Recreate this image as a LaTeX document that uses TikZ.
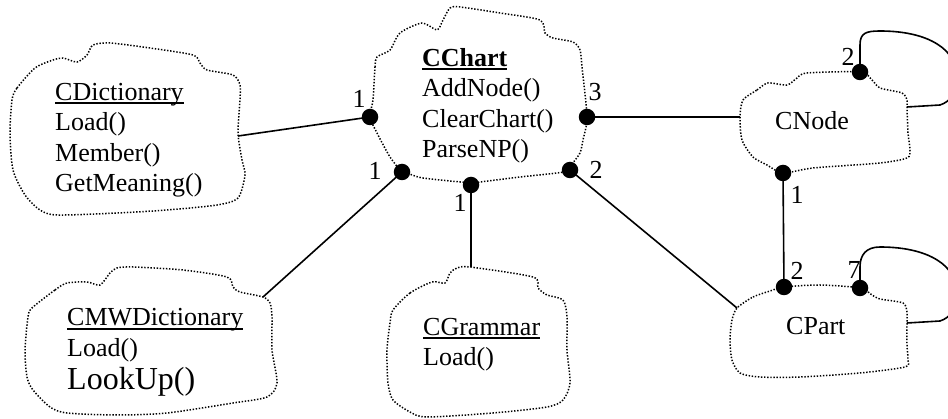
\documentclass[tikz,border=0pt]{standalone}
\usepackage{fontspec}
\setmainfont{Liberation Serif}
\newsavebox\clsbox
% class name with a heavy underline
\newcommand\clsname[1]{\sbox\clsbox{#1}\rlap{\rule[-4pt]{\wd\clsbox}{2.2pt}}\usebox\clsbox}
\tikzset{
  cloudline/.style={line width=1.5pt, dash pattern=on 1.4pt off 1.7pt},
  conn/.style={line width=1.6pt},
  assoc/.style={circle, fill=black, inner sep=0pt, minimum size=16.5pt},
  % anchored on the baseline of the last text line
  cls/.style={anchor=base west, inner sep=0pt, align=left, font=\fontsize{26}{30.5}\selectfont},
  mult/.style={inner sep=0pt, font=\fontsize{26}{30}\selectfont},
}
\begin{document}
\begin{tikzpicture}[x=1pt,y=-1pt]
\useasboundingbox (0,0) rectangle (948,419);
\clip (0,0) rectangle (948,419);

% ---------- class clouds ----------
\draw[cloudline] plot[smooth cycle, tension=0.45] coordinates {
  (12,100) (17,88) (35,68) (53,60) (63,58) (77,62) (87,55) (93,45) (110,43)
  (150,48) (193,55) (200,63) (207,70) (233,75) (240,85) (240,100) (238,133)
  (242,160) (245,175) (238,198) (217,205) (167,210) (117,213) (57,215)
  (40,210) (25,195) (13,170) (10,133)};

\draw[cloudline] plot[smooth cycle, tension=0.45] coordinates {
  (373,100) (375,67) (377,57) (390,50) (400,33) (422,23) (437,30) (443,20)
  (450,8) (460,7) (500,13) (540,20) (545,33) (553,38) (573,42) (580,50)
  (582,67) (587,117) (583,140) (580,153) (573,163) (570,170) (557,173)
  (520,177) (480,182) (472,183) (423,178) (407,173) (402,172) (390,157)
  (377,133) (370,117)};

\draw[cloudline] plot[smooth cycle, tension=0.45] coordinates {
  (32,308) (55,290) (67,283) (87,282) (100,285) (110,273) (117,268) (133,267)
  (183,270) (227,277) (233,287) (240,292) (263,297) (270,303) (272,317)
  (272,350) (277,383) (267,397) (233,403) (167,413) (117,415) (67,413)
  (50,407) (33,390) (27,377) (25,350) (28,317)};

\draw[cloudline] plot[smooth cycle, tension=0.45] coordinates {
  (393,310) (410,293) (432,282) (445,283) (450,273) (457,268) (470,267)
  (533,277) (538,288) (547,295) (563,300) (567,317) (567,350) (570,383)
  (563,400) (547,407) (493,413) (427,417) (410,412) (393,400) (388,383)
  (387,350) (390,323)};

\draw[cloudline] plot[smooth cycle, tension=0.45] coordinates {
  (743,100) (757,90) (768,83) (787,85) (797,78) (807,73) (860,72) (872,80)
  (880,88) (902,93) (907,100) (907,107) (908,133) (910,150) (907,158)
  (880,163) (813,168) (783,173) (767,165) (753,157) (742,140) (740,117)};

\draw[cloudline] plot[smooth cycle, tension=0.45] coordinates {
  (737,308) (753,297) (770,291) (784,287) (820,285) (860,288) (872,295)
  (880,299) (903,303) (907,312) (907,323) (907,345) (908,360) (905,367)
  (860,373) (800,377) (760,377) (740,373) (732,360) (730,340) (732,320)};

% ---------- class texts ----------
\node[cls] (dict) at (55,192) {\clsname{CDictionary}\\Load()\\Member()\\GetMeaning()};
\node[cls] (chart) at (422,158) {\clsname{\bfseries CChart}\\AddNode()\\ClearChart()\\ParseNP()};
\node[cls] (mwdict) at (67,390) {\clsname{CMWDictionary}\\Load()\\[3pt]{\fontsize{32}{36}\selectfont LookUp()}};
\node[cls] (gram) at (423,366) {\clsname{CGrammar}\\Load()};
\node[cls] (cnode) at (775,130) {CNode};
\node[cls] (cpart) at (786,335) {CPart};

% ---------- association ends ----------
\node[assoc] (chL)  at (370,117) {};
\node[assoc] (chR)  at (587,117) {};
\node[assoc] (chBL) at (402,172) {};
\node[assoc] (chB)  at (471,185) {};
\node[assoc] (chBR) at (570,170) {};
\node[assoc] (nT)   at (860,72) {};
\node[assoc] (nB)   at (783,173) {};
\node[assoc] (pT1)  at (784,287) {};
\node[assoc] (pT2)  at (860,288) {};

% points where lines meet the clouds
\coordinate (dictR)  at (238,136);
\coordinate (mwR)    at (263,297);
\coordinate (gramT)  at (471,267);
\coordinate (partTL) at (737,308);
\coordinate (nodeL)  at (740,117);
\coordinate (nodeR)  at (907,107);
\coordinate (partR)  at (907,323);

% ---------- connectors ----------
\draw[conn] (dictR) -- (chL.center);
\draw[conn] (mwR) -- (chBL.center);
\draw[conn] (gramT) -- (chB.center);
\draw[conn] (partTL) -- (chBR.center);
\draw[conn] (nodeL) -- (chR.center);
\draw[conn] (nB.center) -- (pT1.center);
\draw[conn] (nT.center) -- (860,45) .. controls (860,33) and (866,31) .. (880,31)
  .. controls (905,31) and (930,36) .. (945,50)
  .. controls (962,66) and (962,98) .. (940,105) -- (nodeR);
\draw[conn] (pT2.center) -- (860,267) .. controls (860,255) and (866,247) .. (880,247)
  .. controls (905,247) and (930,252) .. (945,266)
  .. controls (962,282) and (962,314) .. (940,321) -- (partR);

% ---------- multiplicities ----------
\node[mult] (m1) at (359,99) {1};
\node[mult] (m2) at (595,92) {3};
\node[mult] (m3) at (375,171) {1};
\node[mult] (m4) at (460,203) {1};
\node[mult] (m5) at (596,170) {2};
\node[mult] (m6) at (848,57) {2};
\node[mult] (m7) at (797,195) {1};
\node[mult] (m8) at (797,271) {2};
\node[mult] (m9) at (854,270) {7};
\end{tikzpicture}
\end{document}
